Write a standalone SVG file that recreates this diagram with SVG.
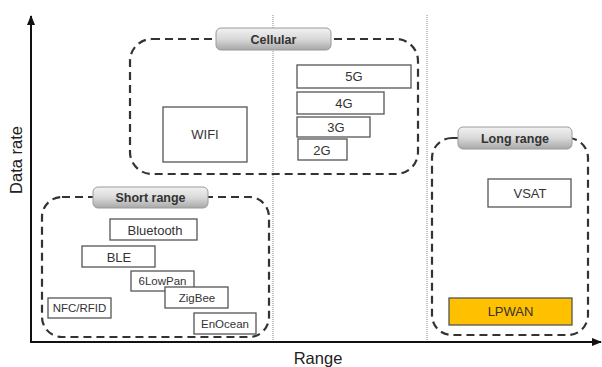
<svg xmlns="http://www.w3.org/2000/svg" width="602" height="367" viewBox="0 0 602 367">
<defs>
<linearGradient id="pillg" x1="0" y1="0" x2="0" y2="1">
<stop offset="0" stop-color="#f2f2f2"/>
<stop offset="0.5" stop-color="#d9d9d9"/>
<stop offset="1" stop-color="#a8a8a8"/>
</linearGradient>
<marker id="arr" markerWidth="10" markerHeight="10" refX="9" refY="5" orient="auto" markerUnits="userSpaceOnUse">
<path d="M0,1 L10,5 L0,9 Z" fill="#111"/>
</marker>
</defs>
<style>
.axis{stroke:#111;stroke-width:2;fill:none}
.dot{stroke:#888;stroke-width:1;stroke-dasharray:1,1;fill:none}
.grp{stroke:#333;stroke-width:2.2;stroke-dasharray:8,5;fill:none}
.pill{fill:url(#pillg);stroke:#9a9a9a;stroke-width:1}
.box{fill:#fff;stroke:#555;stroke-width:1.3}
.lp{fill:#ffc000;stroke:#555;stroke-width:1.3}
.pt{font-family:"Liberation Sans",Arial,sans-serif;font-size:12.5px;font-weight:bold;fill:#333;text-anchor:middle}
.bt{font-family:"Liberation Sans",Arial,sans-serif;font-size:13px;fill:#333;text-anchor:middle}
.st{font-family:"Liberation Sans",Arial,sans-serif;font-size:11.5px;fill:#333;text-anchor:middle}
.ax{font-family:"Liberation Sans",Arial,sans-serif;font-size:16.5px;fill:#222;text-anchor:middle}
</style>
<g id="axes">
<line class="dot" x1="273" y1="15" x2="273" y2="342"/>
<line class="dot" x1="427" y1="15" x2="427" y2="342"/>
<line class="axis" x1="31" y1="343" x2="31" y2="16" marker-end="url(#arr)"/>
<line class="axis" x1="31" y1="342" x2="601" y2="342" marker-end="url(#arr)"/>
<text class="ax" transform="translate(22,160) rotate(-90)">Data rate</text>
<text class="ax" x="318" y="364">Range</text>
</g>
<g id="connectors"></g>
<g id="cellular">
<rect class="grp" x="130" y="39" width="288" height="135" rx="22"/>
<rect class="pill" x="216" y="28" width="115" height="22" rx="5"/>
<text class="pt" x="273.5" y="43.5">Cellular</text>
</g>
<g id="wifi"><rect class="box" x="163" y="107" width="84" height="55"/><text class="bt" x="205" y="139">WIFI</text></g>
<g id="g5"><rect class="box" x="297" y="65" width="114" height="23"/><text class="bt" x="354" y="81">5G</text></g>
<g id="g4"><rect class="box" x="297" y="92" width="87" height="22"/><text class="bt" x="344" y="107.5">4G</text></g>
<g id="g3"><rect class="box" x="297" y="117" width="73" height="20"/><text class="bt" x="336" y="131.5">3G</text></g>
<g id="g2"><rect class="box" x="298" y="139" width="49" height="21"/><text class="bt" x="322" y="154.5">2G</text></g>
<g id="longrange">
<rect class="grp" x="432" y="138" width="156" height="197" rx="20"/>
<rect class="pill" x="458" y="127" width="114" height="22" rx="5"/>
<text class="pt" x="515" y="142.5">Long range</text>
</g>
<g id="vsat"><rect class="box" x="488" y="179" width="83" height="28"/><text class="bt" x="530" y="197.5">VSAT</text></g>
<g id="lpwan"><rect class="lp" x="449" y="298" width="123" height="27"/><text class="bt" x="510.5" y="316">LPWAN</text></g>
<g id="shortrange">
<rect class="grp" x="42" y="197" width="227" height="140" rx="20"/>
<rect class="pill" x="93" y="187" width="115" height="21" rx="5"/>
<text class="pt" x="150.5" y="202">Short range</text>
</g>
<g id="bluetooth"><rect class="box" x="110" y="219" width="87" height="21"/><text class="bt" x="155" y="234.5">Bluetooth</text></g>
<g id="ble"><rect class="box" x="82" y="246" width="73" height="21"/><text class="bt" x="119" y="261.5">BLE</text></g>
<g id="lowpan"><rect class="box" x="131" y="271" width="63" height="20"/><text class="st" x="162.5" y="285">6LowPan</text></g>
<g id="zigbee"><rect class="box" x="165" y="287" width="63" height="21"/><text class="st" x="197" y="301.5">ZigBee</text></g>
<g id="nfc"><rect class="box" x="48" y="298" width="63" height="20"/><text class="st" x="79.5" y="312">NFC/RFID</text></g>
<g id="enocean"><rect class="box" x="194" y="313" width="62" height="21"/><text class="st" x="225" y="327.5">EnOcean</text></g>
</svg>
